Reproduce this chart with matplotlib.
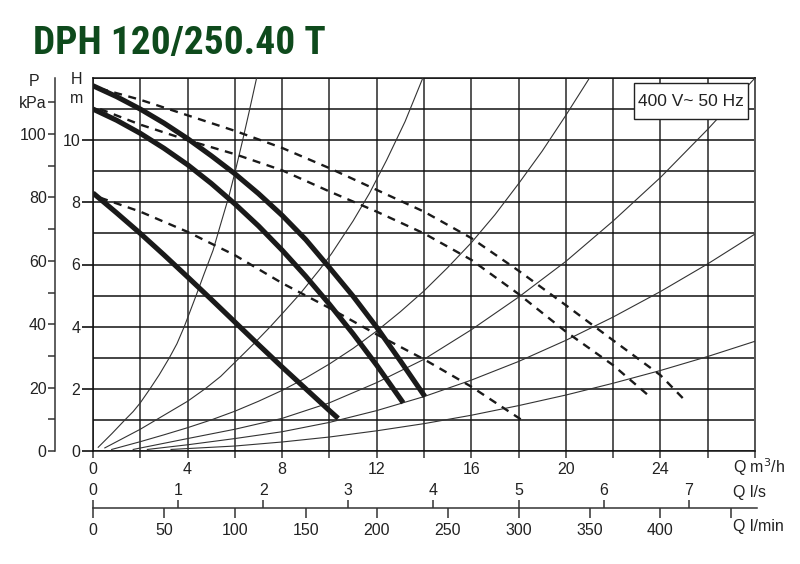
import os
import matplotlib
matplotlib.use("Agg")
import matplotlib.pyplot as plt
from matplotlib import font_manager
from matplotlib.patches import Rectangle

plt.rcParams['font.family'] = ['Liberation Sans', 'DejaVu Sans']

# pump curves, Q in m3/h, H in m
solid_q = [
    [0, 1, 2, 3, 4, 5, 6, 7, 8, 9, 10, 11, 12, 13, 14.04],
    [0, 1, 2, 3, 4, 5, 6, 7, 8, 9, 10, 11, 12, 13.12],
    [0, 1, 2, 3, 4, 5, 6, 7, 8, 9, 10, 10.37],
]
solid_h = [
    [11.75, 11.4, 11.0, 10.55, 10.05, 9.5, 8.92, 8.28, 7.58, 6.8, 5.9, 4.98, 3.98, 2.9, 1.75],
    [11.0, 10.64, 10.22, 9.74, 9.21, 8.61, 7.95, 7.24, 6.46, 5.62, 4.72, 3.77, 2.76, 1.55],
    [8.3, 7.66, 7.0, 6.31, 5.6, 4.88, 4.15, 3.42, 2.7, 2.0, 1.3, 1.05],
]
dash_q = [
    [0.3, 2, 4, 6, 8, 10, 12, 14, 16, 18, 20, 22, 24, 24.96],
    [0.3, 2, 4, 6, 8, 10, 12, 14, 16, 18, 20, 22, 23.55],
    [0.3, 2, 4, 6, 8, 10, 12, 14, 16, 18.13],
]
dash_h = [
    [11.66, 11.3, 10.8, 10.3, 9.75, 9.1, 8.4, 7.7, 6.85, 5.8, 4.69, 3.56, 2.44, 1.69],
    [11.0, 10.5, 10.0, 9.55, 9.03, 8.35, 7.7, 7.0, 6.15, 5.05, 3.84, 2.76, 1.75],
    [8.15, 7.7, 7.05, 6.3, 5.4, 4.6, 3.75, 2.95, 2.07, 1.0],
]
# system curves
sys_q = [
    [0.22, 0.8, 1.35, 1.7, 2.0, 2.41, 2.8, 3.23, 3.55, 3.86, 4.36, 4.7, 5.08,
     5.4, 5.75, 6.0, 6.3, 6.6, 6.92],
    [0.5, 1.2, 2, 3, 4, 4.74, 5.4, 6, 6.8, 7.5, 8.1, 8.75, 9.6, 10.09, 11,
     11.7, 12.42, 13.2, 13.95],
    [0.79, 2, 3, 4, 5, 6, 7, 8, 9, 10, 11, 12, 13, 14, 15, 16, 17, 18, 19, 20, 21],
    [1.7, 4, 6, 8, 10, 12, 14, 16, 18, 20, 22, 24, 26, 28],
    [2.3, 4, 6, 8, 10, 12, 14, 16, 18, 20, 22, 24, 26, 28],
    [3.3, 6, 8, 10, 12, 14, 16, 18, 20, 22, 24, 26, 28],
]
sys_h = [
    [0.12, 0.56, 1.0, 1.27, 1.55, 2.0, 2.45, 3.0, 3.45, 4.0, 5.0, 5.7, 6.46,
     7.3, 8.2, 8.95, 9.9, 10.9, 12.0],
    [0.1, 0.38, 0.7, 1.15, 1.6, 2.0, 2.4, 2.85, 3.45, 4.0, 4.5, 5.05, 5.85,
     6.35, 7.4, 8.3, 9.36, 10.6, 12.0],
    [0.05, 0.3, 0.52, 0.75, 1.0, 1.28, 1.6, 1.95, 2.35, 2.8, 3.3, 3.86, 4.48,
     5.15, 5.9, 6.7, 7.6, 8.6, 9.65, 10.8, 12.0],
    [0.05, 0.4, 0.7, 1.05, 1.55, 2.2, 2.95, 3.9, 4.95, 6.1, 7.4, 8.8, 10.35, 12.0],
    [0.05, 0.2, 0.4, 0.62, 0.92, 1.3, 1.75, 2.28, 2.88, 3.56, 4.31, 5.13, 6.02, 6.98],
    [0.05, 0.16, 0.29, 0.45, 0.65, 0.88, 1.15, 1.46, 1.8, 2.18, 2.59, 3.04, 3.53],
]

q_ticks = list(range(0, 29, 2))
q_labels = ['0', '', '4', '', '8', '', '12', '', '16', '', '20', '', '24', '', '']
h_ticks = list(range(0, 11, 2))
p_ticks = list(range(0, 111, 10))
p_labels = ['0', '', '20', '', '40', '', '60', '', '80', '', '100', 'kPa']
ls_ticks = list(range(0, 8))
lmin_ticks = list(range(0, 451, 50))
lmin_labels = ['0', '50', '100', '150', '200', '250', '300', '350', '400', '']

W, H = 800, 564
fig = plt.figure(figsize=(8, 5.64), dpi=100)
txt = '#222222'

def rect(x0, y0, x1, y1):
    return [x0 / W, 1 - y1 / H, (x1 - x0) / W, (y1 - y0) / H]

ax = fig.add_axes(rect(93, 78, 755, 451))
ax.set_xlim(0, 28)
ax.set_ylim(0, 12)
ax.set_xticks(q_ticks)
ax.set_xticklabels(q_labels)
ax.set_yticks(h_ticks)
ax.set_yticks(range(0, 13), minor=True)
ax.tick_params(axis='x', length=5, width=1.2, color='#444444', pad=3,
               labelsize=11.5, labelcolor=txt)
ax.tick_params(axis='y', which='major', length=8, width=1.2, color='#111111',
               pad=1, labelsize=11.5, labelcolor=txt)
ax.tick_params(axis='y', which='minor', length=0)
ax.grid(True, axis='y', which='both', color='#111111', lw=1.1)
ax.grid(True, axis='x', which='major', color='#555555', lw=1.4)
ax.set_axisbelow(True)
for side in ['left', 'bottom', 'top']:
    ax.spines[side].set_color('#111111')
    ax.spines[side].set_linewidth(1.1)
ax.spines['right'].set_color('#555555')
ax.spines['right'].set_linewidth(1.4)

for q, h in zip(sys_q, sys_h):
    ax.plot(q, h, color='#333333', lw=0.8, zorder=3)
for q, h in zip(dash_q, dash_h):
    ax.plot(q, h, color='#1a1a1a', lw=1.7, ls=(0, (3.4, 2.8)), zorder=4)
for q, h in zip(solid_q, solid_h):
    ax.plot(q, h, color='#1a1a1a', lw=3.7, solid_capstyle='butt',
            solid_joinstyle='round', zorder=5)

# voltage box
ax.add_patch(Rectangle(((634 - 93) / 662, (451 - 119) / 373), 114 / 662, 36 / 373,
                       transform=ax.transAxes, fc='white', ec='#222222', lw=1.0,
                       zorder=9))
ax.text((691 - 93) / 662, (451 - 101) / 373, '400 V~ 50 Hz', transform=ax.transAxes,
        ha='center', va='center', fontsize=12.5, color=txt, zorder=10)

# pressure scale
axp = fig.add_axes(rect(55, 78, 55.01, 451))
axp.set_ylim(0, 12 * 9.80665)
axp.set_yticks(p_ticks)
axp.set_yticklabels(p_labels)
axp.set_xticks([])
axp.patch.set_visible(False)
for side in ['right', 'top', 'bottom']:
    axp.spines[side].set_visible(False)
axp.spines['left'].set_color('#333333')
axp.spines['left'].set_linewidth(1.1)
axp.tick_params(axis='y', length=5, width=1.1, color='#333333', pad=1,
                labelsize=11.5, labelcolor=txt)

# flow scales
axs = fig.add_axes(rect(93, 508, 757, 508.01))
axs.set_xlim(0, 664 / 662 * 28 / 3.6)
axs.set_xticks(ls_ticks)
axs.xaxis.tick_top()
axs.set_yticks([])
axs.patch.set_visible(False)
for side in ['left', 'right', 'top']:
    axs.spines[side].set_visible(False)
axs.spines['bottom'].set_color('#333333')
axs.spines['bottom'].set_linewidth(1.1)
axs.tick_params(axis='x', length=6, width=1.1, color='#333333', pad=1.5,
                labelsize=11.5, labelcolor=txt)

axm = fig.add_axes(rect(93, 508, 757, 508.01))
axm.set_xlim(0, 664 / 662 * 28 * 1000 / 60)
axm.set_xticks(lmin_ticks)
axm.set_xticklabels(lmin_labels)
axm.set_yticks([])
axm.patch.set_visible(False)
for side in ['left', 'right', 'top', 'bottom']:
    axm.spines[side].set_visible(False)
axm.tick_params(axis='x', length=7, width=1.1, color='#333333', pad=3.5,
                labelsize=11.5, labelcolor=txt)

# axis captions
fs = 11.5
fig.text(34 / W, 1 - 81 / H, 'P', ha='center', va='center', fontsize=fs, color=txt)
fig.text(77 / W, 1 - 79 / H, 'H', ha='center', va='center', fontsize=fs, color=txt)
fig.text(77 / W, 1 - 99 / H, 'm', ha='center', va='center', fontsize=fs, color=txt)
fig.text(733 / W, 1 - 467 / H, 'Q m$^3$/h', ha='left', va='center', fontsize=fs, color=txt)
fig.text(733 / W, 1 - 492 / H, 'Q l/s', ha='left', va='center', fontsize=fs, color=txt)
fig.text(733 / W, 1 - 526 / H, 'Q l/min', ha='left', va='center', fontsize=fs, color=txt)

# title: narrowest proportional bold face that is installed
title_font = None
wanted = ['NotoSans-ExtraCondensedBold.ttf', 'LiberationSansNarrow-Bold.ttf',
          'RobotoCondensed-Bold.ttf', 'NotoSans-CondensedBold.ttf',
          'OpenSans_Condensed-Bold.ttf', 'OpenSans-CondensedBold.ttf',
          'DejaVuSansCondensed-Bold.ttf', 'NotoSans-SemiCondensedBold.ttf']
files = {os.path.basename(f.fname): f.fname for f in font_manager.fontManager.ttflist}
for name in wanted:
    if name in files:
        title_font = font_manager.FontProperties(fname=files[name])
        break
if title_font is None:
    title_font = font_manager.FontProperties(family='Liberation Sans', weight='bold')
title_font.set_size(30)
title = fig.text(33 / W, 1 - 44 / H, 'DPH 120/250.40 T', ha='left', va='center',
                 fontproperties=title_font, color='#0e4a1c')
fig.canvas.draw()
tw = title.get_window_extent().width
title.set_fontsize(min(30 * 292 / tw, 31))

fig.savefig('out.png', dpi=100)
